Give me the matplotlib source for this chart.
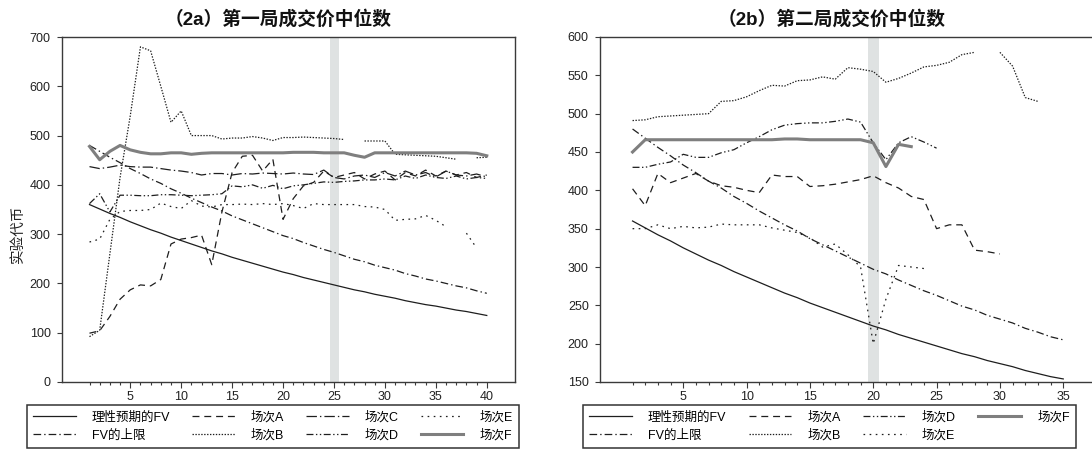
import numpy as np
import matplotlib
matplotlib.use("Agg")
import matplotlib.pyplot as plt

nan = np.nan

# ---------------- data ----------------
periods_a = list(range(1, 41))
periods_b = list(range(1, 36))

fv_rational = [360, 351, 342, 334, 325, 317, 309, 302, 294, 287,
               280, 273, 266, 260, 253, 247, 241, 235, 229, 223,
               218, 212, 207, 202, 197, 192, 187, 183, 178, 174,
               170, 165, 161, 157, 154, 150, 146, 143, 139, 135]
fv_upper = [480, 468, 456, 445, 433, 423, 412, 403, 392, 383,
            373, 364, 355, 347, 337, 329, 321, 313, 305, 297,
            291, 283, 276, 269, 263, 256, 249, 244, 237, 232,
            227, 220, 215, 209, 205, 200, 195, 191, 185, 180]

# round 1 medians
r1_a = [99, 104, 133, 168, 187, 197, 195, 208, 280, 290,
        293, 298, 238, 345, 425, 458, 460, 428, 452, 330,
        372, 398, 405, 428, 415, 420, 425, 412, 422, 428,
        410, 425, 418, 430, 418, 428, 420, 425, 415, 420]
r1_b = [92, 105, 260, 415, 540, 680, 672, 600, 527, 550,
        500, 500, 500, 493, 495, 495, 498, 495, 490, 496,
        496, 497, 496, 495, 494, 492, nan, 489, 489, 489,
        462, 461, 460, 459, 458, 455, 452, nan, 455, 456]
r1_c = [437, 433, 436, 440, 437, 436, 436, 433, 430, 428,
        425, 420, 423, 423, 420, 423, 422, 424, 423, 422,
        424, 422, 421, 430, 415, 412, 418, 420, 415, 425,
        418, 428, 420, 425, 416, 428, 420, 418, 422, 416]
r1_d = [362, 382, 345, 379, 379, 378, 378, 380, 380, 379,
        378, 379, 380, 382, 398, 396, 400, 393, 399, 392,
        398, 400, 403, 406, 405, 407, 408, 410, 410, 412,
        410, 418, 413, 420, 415, 413, 418, 412, 415, 413]
r1_e = [284, 290, 330, 346, 348, 348, 350, 363, 356, 352,
        368, 357, 355, 360, 360, 361, 360, 362, 360, 362,
        358, 352, 362, 360, 360, 360, 360, 356, 355, 350,
        328, 330, 331, 338, 328, 315, nan, 302, 272, nan]
r1_f = [478, 451, 468, 480, 471, 466, 463, 463, 465, 465,
        462, 464, 465, 465, 465, 465, 465, 465, 465, 465,
        466, 466, 466, 465, 465, 465, 460, 456, 465, 465,
        465, 465, 465, 465, 465, 465, 465, 465, 464, 459]

# round 2 medians
r2_a = [402, 380, 422, 410, 416, 422, 412, 406, 404, 400,
        397, 420, 418, 418, 405, 406, 408, 411, 414, 419,
        410, 403, 392, 388, 350, 355, 355, 322, 320, 317,
        nan, nan, nan, nan, nan]
r2_b = [491, 492, 496, 497, 498, 499, 500, 516, 517, 522,
        530, 537, 536, 543, 544, 548, 545, 560, 558, 555,
        541, 546, 553, 561, 563, 567, 577, 580, nan, 580,
        562, 521, 516, nan, nan]
r2_d = [430, 430, 434, 437, 447, 443, 443, 449, 453, 462,
        470, 479, 485, 487, 488, 488, 490, 493, 489, 462,
        440, 462, 470, 463, 455, nan, nan, nan, nan, nan,
        nan, nan, nan, nan, nan]
r2_e = [350, 350, 355, 350, 353, 351, 352, 356, 355, 355,
        355, 351, 348, 345, 338, 326, 330, 316, 300, 200,
        258, 302, 300, 298, nan, nan, nan, nan, nan, nan,
        nan, nan, nan, nan, nan]
r2_f = [450, 466, 466, 466, 466, 466, 466, 466, 466, 466,
        466, 466, 467, 467, 466, 466, 466, 466, 466, 462,
        431, 460, 457, nan, nan, nan, nan, nan, nan, nan,
        nan, nan, nan, nan, nan]

label_fv = "理性预期的FV"
label_up = "FV的上限"
session_labels = {"A": "场次A", "B": "场次B", "C": "场次C",
                  "D": "场次D", "E": "场次E", "F": "场次F"}
title_a = "（2a）第一局成交价中位数"
title_b = "（2b）第二局成交价中位数"
ylabel = "实验代币"

# ---------------- styles ----------------
plt.rcParams['font.family'] = ['Liberation Sans', 'Noto Sans CJK SC']
plt.rcParams['lines.scale_dashes'] = False

ink = "#1e1e1e"
styles = {
    "fv": dict(color=ink, lw=0.9, ls="-"),
    "up": dict(color=ink, lw=0.9, ls=(0, (5.5, 2.2, 1.0, 2.2))),
    "A": dict(color=ink, lw=0.9, ls=(0, (5.0, 3.5))),
    "B": dict(color=ink, lw=0.9, ls=(0, (1.0, 1.1))),
    "C": dict(color=ink, lw=0.9, ls=(0, (7.5, 2.2, 1.0, 2.2))),
    "D": dict(color=ink, lw=0.9, ls=(0, (5.0, 1.8, 1.0, 1.8, 1.0, 1.8))),
    "E": dict(color=ink, lw=0.9, ls=(0, (1.2, 3.2))),
    "F": dict(color="#7f7f7f", lw=2.2, ls="-"),
}
band_color = "#dfe2e2"
spine_color = "#3a3a3a"

W, H = 1092, 450
fig = plt.figure(figsize=(W / 100, H / 100), dpi=100)
fig.patch.set_facecolor("white")


def add_axes_px(x0, y0, x1, y1):
    return fig.add_axes([x0 / W, 1 - y1 / H, (x1 - x0) / W, (y1 - y0) / H])


def style_axes(ax, xlim, ylim, yticks, last):
    ax.set_xlim(*xlim)
    ax.set_ylim(*ylim)
    ax.set_xticks(list(range(5, last + 1, 5)))
    ax.set_xticks(list(range(1, last + 1)), minor=True)
    ax.set_yticks(yticks)
    for s in ax.spines.values():
        s.set_color(spine_color)
        s.set_linewidth(1.0)
    ax.tick_params(axis="x", which="major", length=4.3, width=0.8,
                   color=spine_color, labelsize=9, pad=2, labelcolor="#222222")
    ax.tick_params(axis="x", which="minor", length=2.2, width=0.8,
                   color=spine_color)
    ax.tick_params(axis="y", which="major", length=3.6, width=0.8,
                   color=spine_color, labelsize=9, pad=4.5, labelcolor="#222222")


def add_legend(ax, handles, x0, x1):
    ax.legend(handles=handles, ncol=4, loc="center",
              bbox_to_anchor=(x0 / W, 1 - 447 / H, (x1 - x0) / W, 41 / H),
              bbox_transform=fig.transFigure, mode="expand",
              fontsize=9, handlelength=3.4, handletextpad=1.3,
              labelspacing=0.45, borderpad=0.5, borderaxespad=0,
              frameon=True, fancybox=False, edgecolor="#333333",
              framealpha=1.0)
    ax.get_legend().get_frame().set_linewidth(1.1)


# ---------------- panel 2a ----------------
ax1 = add_axes_px(62, 37, 515, 382)
ax1.axvspan(24.65, 25.5, color=band_color, lw=0, zorder=0)
h = []
h += ax1.plot(periods_a, fv_rational, label=label_fv, **styles["fv"])
h += ax1.plot(periods_a, fv_upper, label=label_up, **styles["up"])
for key, series in [("A", r1_a), ("B", r1_b), ("C", r1_c),
                    ("D", r1_d), ("E", r1_e)]:
    h += ax1.plot(periods_a, series, label=session_labels[key], **styles[key])
h += ax1.plot(periods_a, r1_f, label=session_labels["F"], **styles["F"])
style_axes(ax1, (-1.7, 42.77), (0, 700), list(range(0, 701, 100)), 40)
add_legend(ax1, h, 27, 519)

# ---------------- panel 2b ----------------
ax2 = add_axes_px(600, 37, 1110, 382)
ax2.axvspan(19.55, 20.45, color=band_color, lw=0, zorder=0)
h2 = []
h2 += ax2.plot(periods_b, fv_rational[:35], label=label_fv, **styles["fv"])
h2 += ax2.plot(periods_b, fv_upper[:35], label=label_up, **styles["up"])
for key, series in [("A", r2_a), ("B", r2_b), ("D", r2_d), ("E", r2_e)]:
    h2 += ax2.plot(periods_b, series, label=session_labels[key], **styles[key])
h2 += ax2.plot(periods_b, r2_f, label=session_labels["F"], **styles["F"])
style_axes(ax2, (-1.57, 38.69), (150, 600), list(range(150, 601, 50)), 35)
add_legend(ax2, h2, 583, 1076)

# ---------------- titles and axis label ----------------
fig.text(278 / W, 1 - 19 / H, title_a, ha="center", va="center",
         fontsize=13.5, fontweight="bold", color="#111111")
fig.text(832 / W, 1 - 19 / H, title_b, ha="center", va="center",
         fontsize=13.5, fontweight="bold", color="#111111")
fig.text(18 / W, 1 - 234 / H, ylabel, ha="center", va="center",
         rotation=90, fontsize=10.5, color="#222222")

fig.savefig("out.png", dpi=100, facecolor="white")
